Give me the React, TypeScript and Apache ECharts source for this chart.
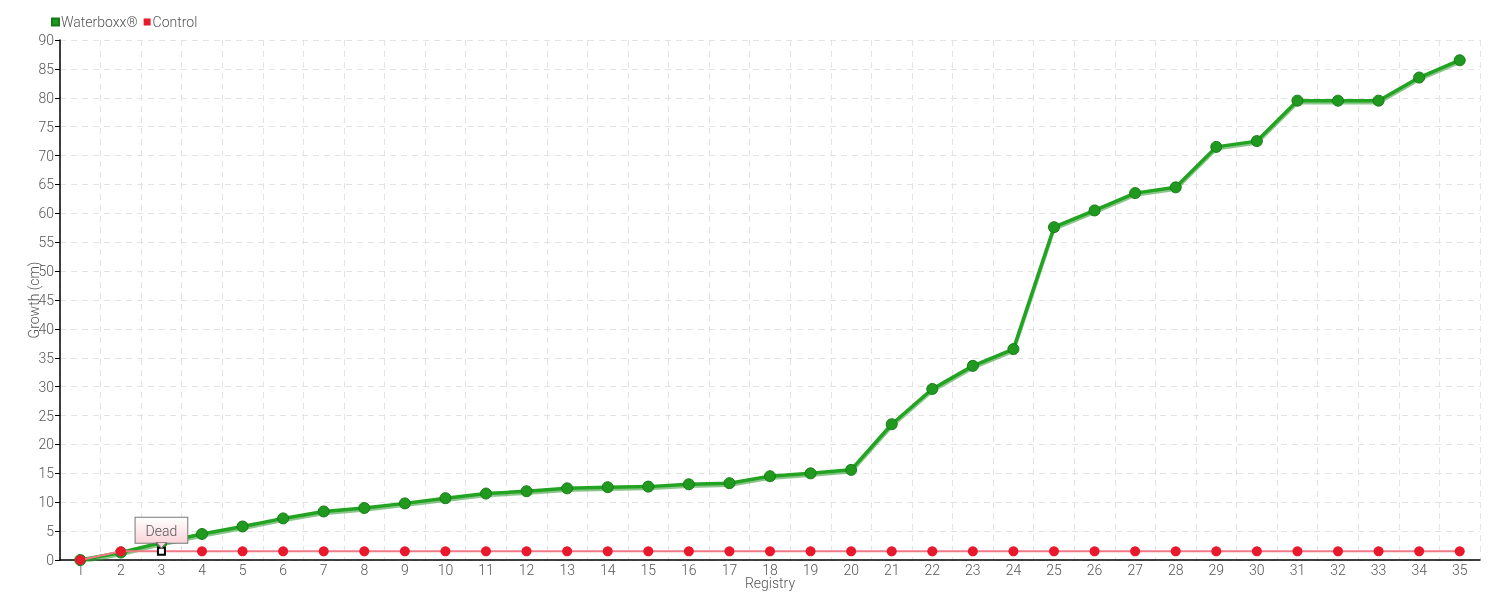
import React, { useEffect, useRef } from "react";
import * as echarts from "echarts";

const registry = Array.from({ length: 35 }, (_, i) => String(i + 1));
const waterboxx = [0, 1.3, 3, 4.5, 5.8, 7.2, 8.4, 9, 9.8, 10.7, 11.5, 11.9, 12.4, 12.6, 12.7, 13.1, 13.3, 14.5, 15, 15.6, 23.5, 29.6, 33.6, 36.5, 57.6, 60.5, 63.5, 64.5, 71.5, 72.5, 79.5, 79.5, 79.5, 83.5, 86.5];
const control = [0, 1.5, 1.5, 1.5, 1.5, 1.5, 1.5, 1.5, 1.5, 1.5, 1.5, 1.5, 1.5, 1.5, 1.5, 1.5, 1.5, 1.5, 1.5, 1.5, 1.5, 1.5, 1.5, 1.5, 1.5, 1.5, 1.5, 1.5, 1.5, 1.5, 1.5, 1.5, 1.5, 1.5, 1.5];
const deadIndex = 2;
const deadLabel = "Dead";

const FONT = "Roboto, sans-serif";
const FW = 300;

export default function App() {
  const ref = useRef<HTMLDivElement>(null);
  useEffect(() => {
    const chart = echarts.init(ref.current!, undefined, { renderer: "svg" });
    const controlData = control.map((v, i) =>
      i === deadIndex
        ? {
            value: v,
            symbol: "rect",
            symbolSize: 7,
            itemStyle: { color: "#ffffff", borderColor: "#000", borderWidth: 2 },
            label: {
              show: true,
              position: "top",
              distance: 4,
              formatter: deadLabel,
              color: "#555",
              fontFamily: FONT,
              fontWeight: FW,
              fontSize: 14,
              backgroundColor: {
                type: "linear", x: 0, y: 0, x2: 0, y2: 1,
                colorStops: [{ offset: 0, color: "#ffffff" }, { offset: 1, color: "#f9d4d8" }],
              },
              borderColor: "#777",
              borderWidth: 1,
              padding: [6, 10, 5, 10],
            },
          }
        : v
    );
    chart.setOption({
      animation: false,
      textStyle: { fontFamily: FONT, fontWeight: FW },
      legend: {
        left: 46,
        top: 10,
        itemWidth: 7,
        itemHeight: 7,
        itemGap: 6,
        icon: "rect",
        textStyle: { color: "#555", fontSize: 14, fontFamily: FONT, fontWeight: FW, padding: [0, 0, 0, -3] },
        data: ["Waterboxx®", "Control"],
      },
      grid: { left: 60, right: 20, top: 40, bottom: 40, outerBoundsMode: "none" },
      xAxis: {
        type: "category",
        data: registry,
        boundaryGap: true,
        name: "Registry",
        nameLocation: "middle",
        nameMoveOverlap: false,
        nameGap: 16,
        nameTextStyle: { color: "#555", fontSize: 14, fontFamily: FONT, fontWeight: FW },
        axisLine: { lineStyle: { color: "#000", width: 1.5 } },
        axisTick: { alignWithLabel: true, length: 5, lineStyle: { color: "#000" } },
        axisLabel: { color: "#555", fontSize: 14, fontFamily: FONT, fontWeight: FW, margin: 3 },
        splitLine: { show: true, lineStyle: { color: "#e3e3e3", type: [6, 5] } },
      },
      yAxis: {
        type: "value",
        min: 0,
        max: 90,
        interval: 5,
        name: "Growth (cm)",
        nameLocation: "middle",
        nameMoveOverlap: false,
        nameGap: 19,
        nameTextStyle: { color: "#555", fontSize: 14, fontFamily: FONT, fontWeight: FW },
        axisLine: { show: true, lineStyle: { color: "#000", width: 1.5 } },
        axisTick: { show: true, length: 5, lineStyle: { color: "#000" } },
        axisLabel: { color: "#555", fontSize: 14, fontFamily: FONT, fontWeight: FW, margin: 6 },
        splitLine: { show: true, lineStyle: { color: "#e3e3e3", type: [6, 5] } },
      },
      series: [
        {
          name: "Waterboxx®",
          type: "line",
          data: waterboxx,
          symbol: "circle",
          symbolSize: 11,
          itemStyle: { color: "#1f9a1f", borderColor: "#187a18", borderWidth: 1 },
          lineStyle: { color: "#22a322", width: 3.5, shadowColor: "rgba(60,160,60,0.6)", shadowOffsetY: 2, shadowBlur: 0 },
          z: 2,
        },
        {
          name: "Control",
          type: "line",
          data: controlData,
          symbol: "circle",
          symbolSize: 10,
          itemStyle: { color: "#e8192c" },
          lineStyle: { color: "#f27a88", width: 2 },
          z: 3,
          markPoint: {
            silent: true,
            symbol: "triangle",
            symbolRotate: 180,
            symbolSize: [10, 6],
            symbolOffset: [0, -6],
            itemStyle: { color: "#f9d4d8", borderColor: "#777", borderWidth: 1 },
            label: { show: false },
            data: [{ coord: [deadIndex, control[deadIndex]] }],
          },
        },
      ],
    });
    return () => chart.dispose();
  }, []);
  return <div ref={ref} style={{ position: "fixed", left: 0, top: 0, width: 1500, height: 600 }} />;
}
